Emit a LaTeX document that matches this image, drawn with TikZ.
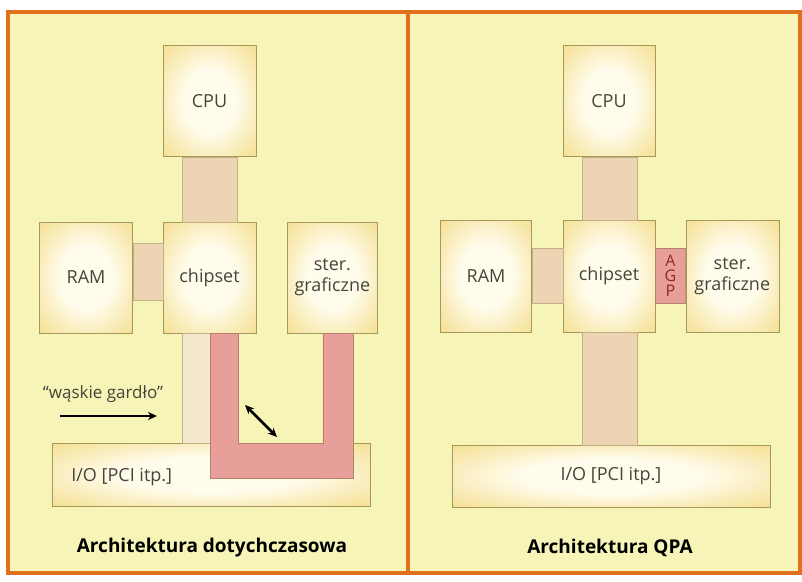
\documentclass[tikz,border=0pt]{standalone}
\usepackage{fontspec}
\setmainfont{Open Sans}
\usetikzlibrary{arrows.meta, positioning, calc}
\definecolor{paper}{HTML}{F6F4B6}
\definecolor{frameorange}{HTML}{E0701E}
\definecolor{boxedge}{HTML}{E9C55C}
\definecolor{boxmid}{HTML}{F6E4A0}
\definecolor{boxcore}{HTML}{FFFCEC}
\definecolor{boxline}{HTML}{A8985A}
\definecolor{busfill}{HTML}{EDD5B3}
\definecolor{busline}{HTML}{C4AE86}
\definecolor{creamfill}{HTML}{F4E8CF}
\definecolor{agpfill}{HTML}{E89F99}
\definecolor{agpline}{HTML}{B5806E}
\definecolor{ink}{HTML}{45453C}
\definecolor{agpink}{HTML}{902828}
\pgfdeclareradialshading{boxglow}{\pgfpoint{0bp}{0bp}}{color(0bp)=(boxcore); color(14bp)=(boxcore); color(32bp)=(boxmid); color(50bp)=(boxedge)}

\begin{document}
\begin{tikzpicture}[
    x=1pt, y=-1pt,
    label/.style={align=center, text=ink, font=\fontsize{18}{21}\selectfont},
    unit/.style={label, draw=boxline, shading=boxglow, minimum width=93pt, minimum height=111pt, inner sep=0pt},
    iobox/.style={unit, minimum width=318pt, minimum height=63pt},
    bus/.style={draw=busline, fill=busfill},
    agpbus/.style={draw=agpline, fill=agpfill},
    agp/.style={draw=agpline, fill=agpfill, minimum width=30pt, minimum height=55pt, inner sep=0pt, align=center, text=agpink, font=\fontsize{16}{15}\selectfont},
    caption/.style={text=black, font=\fontsize{19}{22}\selectfont\bfseries},
    note/.style={text=ink, font=\fontsize{17}{20}\selectfont},
    arrow/.style={draw, line width=2.6pt, -{Stealth[length=9pt, width=8pt]}},
    twoway/.style={draw, line width=2.6pt, {Stealth[length=9pt, width=8pt]}-{Stealth[length=9pt, width=8pt]}},
    frame/.style={draw=frameorange, line width=3.5pt}
]

\useasboundingbox (0,0) rectangle (802,581);
\fill[white] (0,0) rectangle (802,581);
\fill[paper] (8,12) rectangle (800,573);

\node[unit] (chip1) at (209.5,277.5) {chipset};
\node[unit, above=65pt of chip1] (cpu1) {CPU};
\node[unit, left=30pt of chip1] (ram1) {RAM};
\node[unit, right=31pt of chip1, minimum width=90pt] (gfx1) {ster.\\graficzne};
\node[iobox] (io1) at (211,474.5) {};
\node[label, anchor=west] (io1text) at ($(io1.west)+(16,3)$) {I/O [PCI itp.]};

\draw[bus] ($(cpu1.south)+(-27.5,0)$) rectangle ($(chip1.north)+(27.5,0)$);
\draw[bus] ($(ram1.east)+(0,-34.5)$) rectangle ($(chip1.west)+(0,22.5)$);
\draw[bus, fill=creamfill] ($(chip1.south)+(-27.5,0)$) rectangle ($(chip1.south |- io1.north)+(0.5,0)$);
\draw[agpbus] ($(chip1.south)+(0.5,0)$) -- ($(chip1.south)+(0.5,145)$) -- ($(gfx1.south)+(20.5,145)$) -- ($(gfx1.south)+(20.5,0)$) -- ($(gfx1.south)+(-9.5,0)$) -- ($(gfx1.south)+(-9.5,110)$) -- ($(chip1.south)+(28.5,110)$) -- ($(chip1.south)+(28.5,0)$) -- cycle;

\node[note] (neck) at (103,394) {``wąskie gardło''};
\coordinate (neckstart) at (60,416);
\coordinate (neckend) at (157,416);
\draw[arrow] (neckstart) -- (neckend);
\coordinate (gapA) at (245,405);
\coordinate (gapB) at (277,437);
\draw[twoway] (gapA) -- (gapB);

\node[caption] (title1) at (212,548) {Architektura dotychczasowa};

\node[unit, minimum width=92pt, minimum height=112pt] (chip2) at (609,276) {chipset};
\node[unit, above=63pt of chip2, minimum width=92pt] (cpu2) {CPU};
\node[unit, left=31pt of chip2, minimum width=91pt, minimum height=112pt] (ram2) {RAM};
\node[agp, right=0pt of chip2] (agp2) {A\\G\\P};
\node[unit, right=0pt of agp2, minimum height=112pt] (gfx2) {ster.\\graficzne};
\node[iobox, minimum height=62pt] (io2) at (611,476) {I/O [PCI itp.]};

\draw[bus] ($(cpu2.south)+(-27,0)$) rectangle ($(chip2.north)+(28,0)$);
\draw[bus] ($(ram2.east)+(0,-28)$) rectangle ($(chip2.west)+(0,27)$);
\draw[bus] ($(chip2.south)+(-27,0)$) rectangle ($(chip2.south |- io2.north)+(28,0)$);

\node[caption] (title2) at (610,548) {Architektura QPA};

\draw[frame] (8,12) rectangle (800,573);
\draw[frame] (408,12) -- (408,573);

\end{tikzpicture}
\end{document}
